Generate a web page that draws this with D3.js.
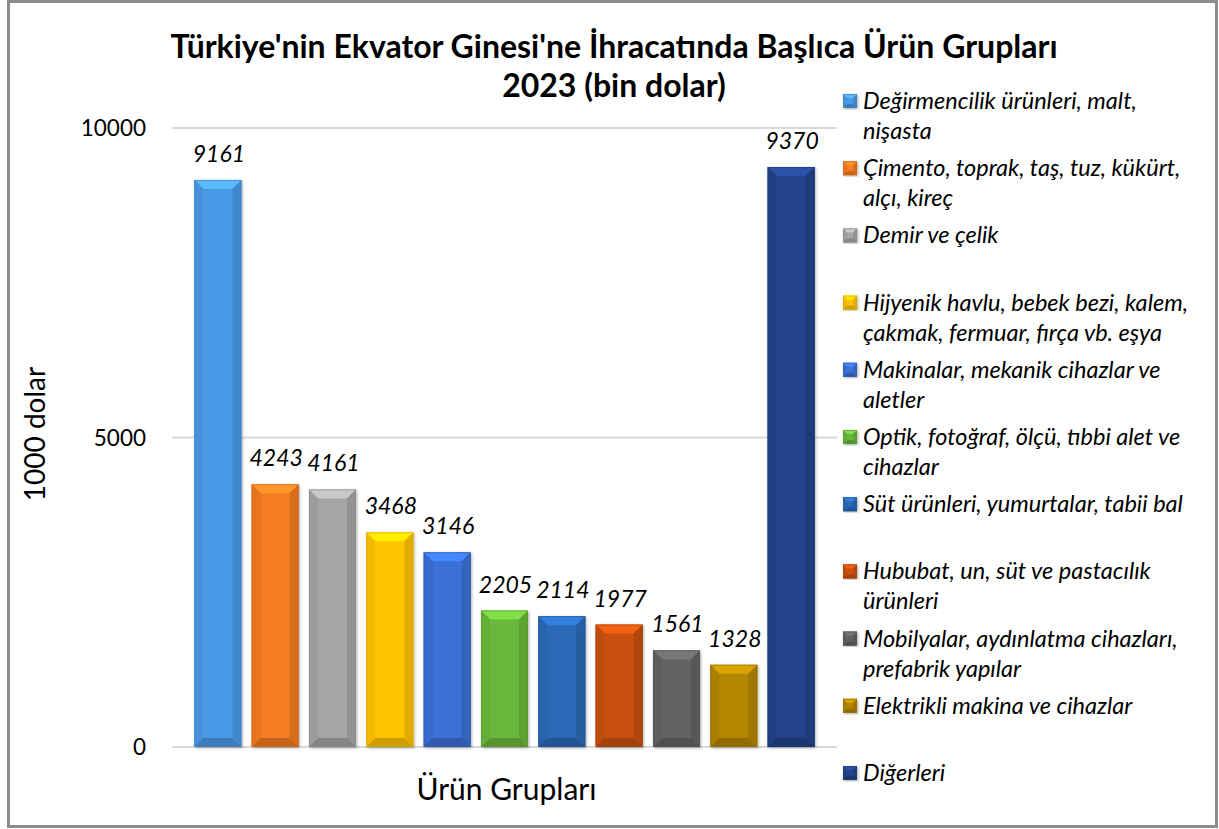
<!DOCTYPE html>
<html><head><meta charset="utf-8">
<script src="https://cdn.jsdelivr.net/npm/d3@7"></script>
<style>body{margin:0;background:#fff}svg{display:block}</style>
</head><body><svg id="c" width="1219" height="829"></svg>
<script>
const categories = [
  "Değirmencilik ürünleri, malt, nişasta",
  "Çimento, toprak, taş, tuz, kükürt, alçı, kireç",
  "Demir ve çelik",
  "Hijyenik havlu, bebek bezi, kalem, çakmak, fermuar, fırça vb. eşya",
  "Makinalar, mekanik cihazlar ve aletler",
  "Optik, fotoğraf, ölçü, tıbbi alet ve cihazlar",
  "Süt ürünleri, yumurtalar, tabii bal",
  "Hububat, un, süt ve pastacılık ürünleri",
  "Mobilyalar, aydınlatma cihazları, prefabrik yapılar",
  "Elektrikli makina ve cihazlar",
  "Diğerleri"
];
const legendLines = [
  ["Değirmencilik ürünleri, malt,", "nişasta"],
  ["Çimento, toprak, taş, tuz, kükürt,", "alçı, kireç"],
  ["Demir ve çelik"],
  ["Hijyenik havlu, bebek bezi, kalem,", "çakmak, fermuar, fırça vb. eşya"],
  ["Makinalar, mekanik cihazlar ve", "aletler"],
  ["Optik, fotoğraf, ölçü, tıbbi alet ve", "cihazlar"],
  ["Süt ürünleri, yumurtalar, tabii bal"],
  ["Hububat, un, süt ve pastacılık", "ürünleri"],
  ["Mobilyalar, aydınlatma cihazları,", "prefabrik yapılar"],
  ["Elektrikli makina ve cihazlar"],
  ["Diğerleri"]
];
const values = [9161, 4243, 4161, 3468, 3146, 2205, 2114, 1977, 1561, 1328, 9370];
const colors = ["#4a9ae6","#f47b20","#a5a5a5","#ffc400","#3a70d6","#6ab73a","#2a69b5","#c8500e","#636363","#b38600","#22438a"];
const yTicks = [0, 5000, 10000];
const titleLines = ["Türkiye'nin Ekvator Ginesi'ne İhracatında Başlıca Ürün Grupları", "2023 (bin dolar)"];
const yTitle = "1000 dolar";
const xTitle = "Ürün Grupları";

const FONT = "Lato, 'Open Sans', sans-serif";
const svg = d3.select("#c");
const defs = svg.append("defs");

// outer border
svg.append("rect").attr("x", 8.5).attr("y", 1.5).attr("width", 1208).attr("height", 825)
  .attr("fill", "#fff").attr("stroke", "#8c8c8c").attr("stroke-width", 3);

const plot = {left: 172, right: 837, top: 128, bottom: 747};
const x = d3.scaleBand().domain(d3.range(values.length)).range([plot.left, plot.right])
  .paddingInner(0.18).paddingOuter(0.39);
const y = d3.scaleLinear().domain([0, 10000]).range([plot.bottom, plot.top]);

// gridlines
svg.append("g").selectAll("line").data(yTicks).join("line")
  .attr("x1", plot.left).attr("x2", plot.right)
  .attr("y1", d => y(d)).attr("y2", d => y(d))
  .attr("stroke", "#d9d9d9").attr("stroke-width", 2);

// y axis labels
const yAxis = svg.append("g").attr("transform", `translate(${plot.left - 26},0)`)
  .call(d3.axisLeft(y).tickValues(yTicks).tickSize(0).tickPadding(0).tickFormat(d3.format("d")));
yAxis.select(".domain").remove();
yAxis.selectAll("text").attr("font-family", FONT).attr("font-size", 22.5).attr("fill", "#000").attr("dy", "0.35em");

// shadow filter
const f = defs.append("filter").attr("id", "sh").attr("x", "-20%").attr("y", "-10%").attr("width", "140%").attr("height", "120%");
f.append("feDropShadow").attr("dx", 1).attr("dy", 1).attr("stdDeviation", 1.5).attr("flood-color", "#000").attr("flood-opacity", 0.35);

function bevel(g, x0, y0, w, h, col, b) {
  const c = d3.color(col);
  g.append("rect").attr("x", x0).attr("y", y0).attr("width", w).attr("height", h)
    .attr("fill", col).attr("filter", "url(#sh)");
  const bb = Math.min(b, h / 2);
  const poly = pts => g.append("polygon").attr("points", pts.map(p => p.join(",")).join(" "));
  poly([[x0, y0], [x0 + w, y0], [x0 + w - bb, y0 + bb], [x0 + bb, y0 + bb]]).attr("fill", c.brighter(0.55));
  poly([[x0, y0], [x0 + bb, y0 + bb], [x0 + bb, y0 + h - bb], [x0, y0 + h]]).attr("fill", c.darker(0.15));
  poly([[x0 + w, y0], [x0 + w - bb, y0 + bb], [x0 + w - bb, y0 + h - bb], [x0 + w, y0 + h]]).attr("fill", c.darker(0.35));
  poly([[x0, y0 + h], [x0 + bb, y0 + h - bb], [x0 + w - bb, y0 + h - bb], [x0 + w, y0 + h]]).attr("fill", c.darker(0.6));
  g.append("rect").attr("x", x0 + 0.5).attr("y", y0 + 0.5).attr("width", w - 1).attr("height", h - 1)
    .attr("fill", "none").attr("stroke", c.darker(0.5)).attr("stroke-width", 1).attr("stroke-opacity", 0.6);
}

const bars = svg.append("g");
values.forEach((v, i) => {
  const g = bars.append("g");
  bevel(g, x(i), y(v), x.bandwidth(), y(0) - y(v), colors[i], 9);
});

// data labels
svg.append("g").selectAll("text").data(values).join("text")
  .attr("x", (d, i) => x(i) + x.bandwidth() / 2 + 1)
  .attr("y", d => y(d) - 18)
  .attr("text-anchor", "middle").attr("font-family", FONT).attr("font-style", "italic")
  .attr("font-size", 23).attr("fill", "#000").text(d => d);

// title
svg.append("g").selectAll("text").data(titleLines).join("text")
  .attr("x", 614).attr("y", (d, i) => 58 + i * 39)
  .attr("text-anchor", "middle").attr("font-family", FONT).attr("font-weight", "bold")
  .attr("font-size", 32).attr("fill", "#000").text(d => d);

// axis titles
svg.append("text").attr("transform", "translate(45,434) rotate(-90)")
  .attr("text-anchor", "middle").attr("font-family", FONT).attr("font-size", 28).attr("fill", "#000").text(yTitle);
svg.append("text").attr("x", (plot.left + plot.right) / 2 + 2).attr("y", 800)
  .attr("text-anchor", "middle").attr("font-family", FONT).attr("font-size", 30).attr("fill", "#000").text(xTitle);

// legend
const leg = svg.append("g");
legendLines.forEach((lines, i) => {
  const cy = 101 + i * 67.2;
  const g = leg.append("g");
  bevel(g, 843, cy - 7, 14, 14, colors[i], 4);
  lines.forEach((t, j) => {
    g.append("text").attr("x", 863).attr("y", cy + 8 + j * 30)
      .attr("font-family", FONT).attr("font-style", "italic").attr("font-size", 23.5)
      .attr("fill", "#000").text(t);
  });
});
</script></body></html>
